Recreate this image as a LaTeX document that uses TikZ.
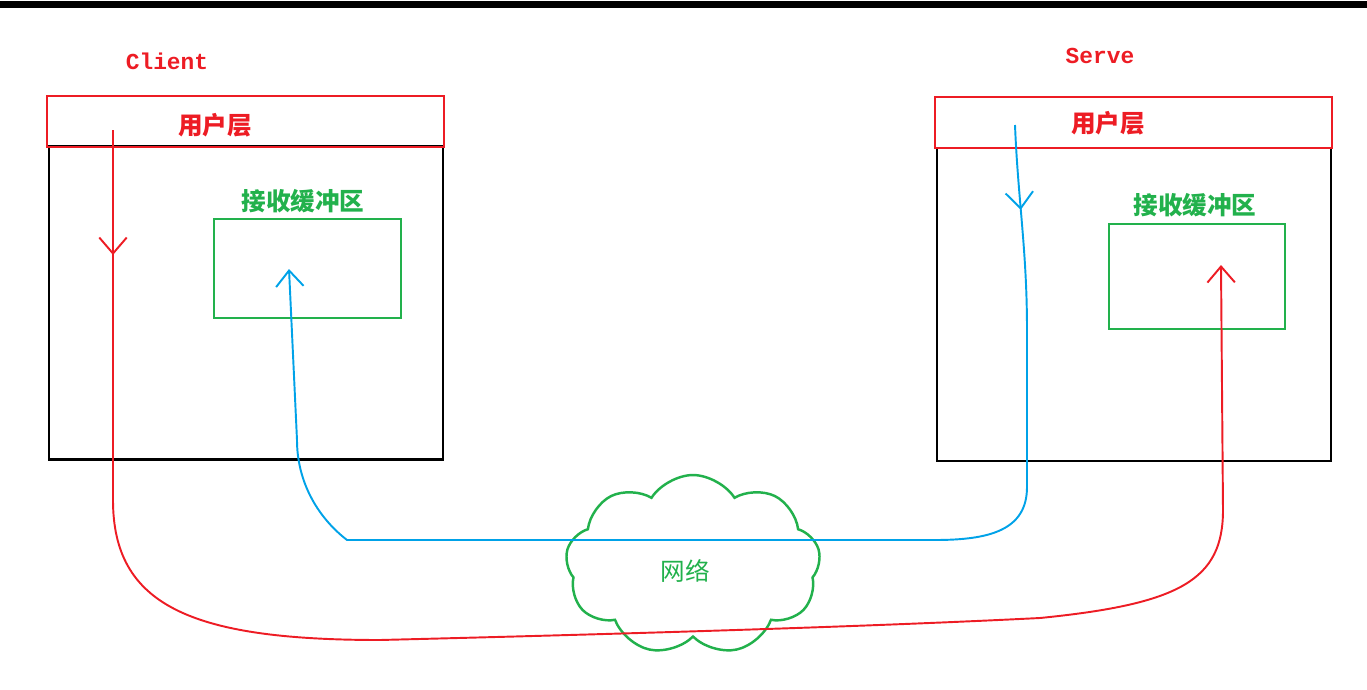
\documentclass[tikz,border=0pt]{standalone}
\usepackage{fontspec}
\usepackage{tikz}
\usetikzlibrary{arrows.meta,shapes.symbols,decorations.markings}
\newfontfamily\cjk{Noto Sans CJK SC}
\newfontfamily\codefont{Liberation Mono}
\definecolor{paintred}{HTML}{ED1C24}
\definecolor{paintgreen}{HTML}{22B14C}
\definecolor{paintblue}{HTML}{00A2E8}

\begin{document}
\begin{tikzpicture}[x=0.02cm,y=-0.02cm,>=Latex]

\tikzset{
hostbox/.style={
    draw=black,
    line width=1.6pt,
    minimum width=7.88cm,
    minimum height=6.26cm,
    inner sep=0pt,
    outer sep=0pt
},
userbox/.style={
    draw=paintred,
    line width=1.6pt,
    minimum width=7.94cm,
    minimum height=1.02cm,
    inner sep=0pt,
    outer sep=0pt
},
bufbox/.style={
    draw=paintgreen,
    line width=1.6pt,
    inner sep=0pt,
    outer sep=0pt
},
hosttag/.style={font=\codefont\bfseries\fontsize{13}{15}\selectfont,text=paintred},
cjktag/.style={font=\cjk\fontsize{14}{16}\selectfont},
boldtag/.style={font=\cjk\bfseries\fontsize{14}{16}\selectfont},
flow/.style={line width=1.1pt,line join=round,postaction={decorate}},
sendline/.style={flow,draw=paintred,-{Straight Barb[length=3.2mm,width=5.5mm]},
    decoration={markings,mark=at position 2.5cm with {\arrow{Straight Barb[length=3.2mm,width=5.5mm]}}}},
backline/.style={flow,draw=paintblue,-{Straight Barb[length=3.2mm,width=5.5mm]},
    decoration={markings,mark=at position 1.7cm with {\arrow{Straight Barb[length=3.2mm,width=5.5mm]}}}}
}

\useasboundingbox (0,0) rectangle (1367,690);
\fill[black] (0,1) rectangle (1367,8);

% client side
\node[hosttag] (clientname) at (167,61) {Client};
\node[hostbox] (clienthost) at (246,303) {};
\node[userbox] (clientuser) at (245.5,121.5) {};
\node[boldtag,text=paintred] (clientusertxt) at (215,125) {用户层};
\node[bufbox,minimum width=3.74cm,minimum height=1.98cm] (clientbuf) at (307.5,268.5) {};
\node[boldtag,text=paintgreen] (clientbuftxt) at (303,201) {接收缓冲区};

% server side
\node[hosttag] (servename) at (1100,56) {Serve};
\node[hostbox] (servehost) at (1134,304.5) {};
\node[userbox] (serveuser) at (1133.5,122.5) {};
\node[boldtag,text=paintred] (serveusertxt) at (1108,123) {用户层};
\node[bufbox,minimum width=3.52cm,minimum height=2.1cm] (servebuf) at (1197,276.5) {};
\node[boldtag,text=paintgreen] (servebuftxt) at (1195,205) {接收缓冲区};

% network
\node[cloud,draw=paintgreen,line width=1.4pt,cloud puffs=9,cloud puff arc=115,
      minimum width=5.1cm,minimum height=3.6cm] (net) at (693,565) {};
\node[cjktag,text=paintgreen] (nettxt) at (685,571) {网络};

\coordinate (sendstart) at (113,130);
\coordinate (sendend) at (1221,265);
\coordinate (backstart) at (1015,125);
\coordinate (backend) at (289,269);

\draw[sendline]
(sendstart) -- (113,500)
.. controls (113,605) and (190,640) .. (380,640)
.. controls (700,632) and (900,625) .. (1040,618)
.. controls (1180,604) and (1223,580) .. (1223,510)
-- (sendend);

\draw[backline]
(backstart) .. controls (1018,200) and (1027,250) .. (1027,330)
-- (1027,487)
.. controls (1027,530) and (990,540) .. (935,540)
-- (347,540)
.. controls (316,516) and (297,480) .. (297,440)
-- (backend);

\end{tikzpicture}
\end{document}
